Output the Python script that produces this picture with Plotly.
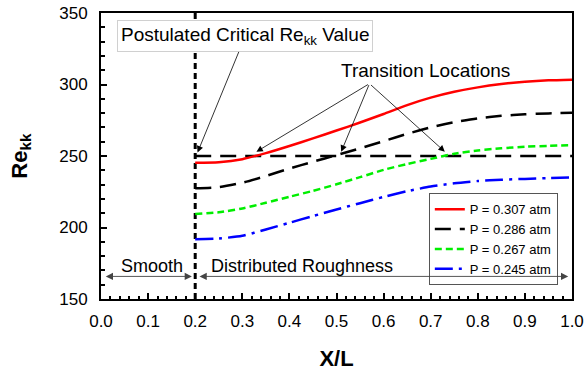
import plotly.graph_objects as go

# ---- data ----
x_pos = [0.20, 0.25, 0.30, 0.35, 0.40, 0.45, 0.50, 0.55, 0.60, 0.65, 0.70,
         0.75, 0.80, 0.85, 0.90, 0.95, 1.00]
re_p0307 = [245.3, 245.7, 247.8, 252.0, 257.0, 262.3, 267.8, 273.4, 279.4, 285.6,
            290.8, 294.9, 298.0, 300.3, 301.9, 302.9, 303.4]
re_p0286 = [227.4, 228.2, 231.3, 236.0, 241.2, 246.0, 250.6, 255.4, 260.4, 265.5,
            270.0, 273.6, 276.3, 278.1, 279.2, 279.8, 280.2]
re_p0267 = [209.5, 210.6, 213.3, 217.3, 221.5, 225.6, 230.2, 235.2, 240.3, 244.4,
            248.0, 251.6, 253.9, 255.4, 256.5, 257.1, 257.6]
re_p0245 = [191.8, 192.3, 194.2, 198.6, 203.3, 208.0, 212.6, 217.0, 221.4, 225.4,
            228.6, 230.9, 232.5, 233.4, 234.0, 234.5, 235.0]
series_names = ["P = 0.307 atm", "P = 0.286 atm", "P = 0.267 atm", "P = 0.245 atm"]

critical_re = 250
roughness_start = 0.2
transition_x = [0.33, 0.51, 0.73]
x_ticks = [0.0, 0.1, 0.2, 0.3, 0.4, 0.5, 0.6, 0.7, 0.8, 0.9, 1.0]
y_ticks = [150, 200, 250, 300, 350]

FONT = "Arial, Liberation Sans, sans-serif"

fig = go.Figure()

# reference lines
fig.add_trace(go.Scatter(x=[roughness_start, 1.0], y=[critical_re, critical_re],
                         mode="lines", showlegend=False, hoverinfo="skip",
                         line=dict(color="black", width=2.5, dash="16px,9px")))
fig.add_trace(go.Scatter(x=[roughness_start, roughness_start], y=[150, 350],
                         mode="lines", showlegend=False, hoverinfo="skip",
                         line=dict(color="black", width=3, dash="6px,4px")))

styles = [
    dict(color="#ff0000", width=2.5, dash="solid"),
    dict(color="black", width=2.5, dash="16px,9px"),
    dict(color="#00ee00", width=2.5, dash="7px,4px"),
    dict(color="#0000ff", width=2.5, dash="18px,6px,3px,6px"),
]
for ys, nm, st in zip([re_p0307, re_p0286, re_p0267, re_p0245], series_names, styles):
    fig.add_trace(go.Scatter(x=x_pos, y=ys, mode="lines", name=nm,
                             line=dict(shape="spline", smoothing=0.6, **st)))

annotations = []
# Postulated critical value annotation
annotations.append(dict(
    x=0.205, y=252.5, xref="x", yref="y",
    ax=0.306, ay=333.6, axref="x", ayref="y",
    text="Postulated Critical Re<sub>kk</sub> Value",
    showarrow=True, arrowhead=2, arrowsize=1.6, arrowwidth=0.8, arrowcolor="black",
    font=dict(family=FONT, size=19, color="black"),
    bgcolor="white", bordercolor="#d0d0d0", borderwidth=1, borderpad=3,
))
# Transition locations
annotations.append(dict(
    x=0.688, y=310, xref="x", yref="y", text="Transition Locations",
    showarrow=False, font=dict(family=FONT, size=19, color="black"),
))
for tx in transition_x:
    annotations.append(dict(
        x=tx, y=253, xref="x", yref="y",
        ax=0.570, ay=300.6, axref="x", ayref="y",
        text="", showarrow=True, arrowhead=2, arrowsize=1.6, arrowwidth=0.8,
        arrowcolor="black",
    ))
# Smooth / Distributed roughness double arrows
annotations.append(dict(
    x=0.193, y=165.8, xref="x", yref="y", ax=0.007, ay=165.8, axref="x", ayref="y",
    text="", showarrow=True, arrowhead=2, startarrowhead=2, arrowside="end+start",
    arrowsize=1.6, startarrowsize=1.6, arrowwidth=0.9, arrowcolor="#444444",
))
annotations.append(dict(
    x=0.992, y=165.8, xref="x", yref="y", ax=0.206, ay=165.8, axref="x", ayref="y",
    text="", showarrow=True, arrowhead=2, startarrowhead=2, arrowside="end+start",
    arrowsize=1.6, startarrowsize=1.6, arrowwidth=0.9, arrowcolor="#444444",
))
annotations.append(dict(
    x=0.108, y=173.2, xref="x", yref="y", text="Smooth", showarrow=False,
    font=dict(family=FONT, size=18, color="black"),
))
annotations.append(dict(
    x=0.427, y=173.2, xref="x", yref="y", text="Distributed Roughness", showarrow=False,
    font=dict(family=FONT, size=18, color="black"),
))

fig.update_layout(
    width=586, height=372,
    margin=dict(l=101, r=14, t=13, b=73, autoexpand=False),
    paper_bgcolor="white", plot_bgcolor="white",
    font=dict(family=FONT, size=17, color="black"),
    annotations=annotations,
    legend=dict(
        x=0.696, y=0.37, xanchor="left", yanchor="top",
        bgcolor="white", bordercolor="#555555", borderwidth=1,
        font=dict(family=FONT, size=13, color="black"),
        itemwidth=30, tracegroupgap=0,
    ),
    xaxis=dict(
        range=[0, 1], tickvals=x_ticks, ticktext=[f"{v:.1f}" for v in x_ticks],
        automargin=False,
        ticks="inside", ticklen=6, tickwidth=1.5, tickcolor="black",
        ticklabelstandoff=6,
        minor=dict(dtick=0.02, ticks="inside", ticklen=3, tickwidth=1.5, tickcolor="black"),
        showline=True, linecolor="black", linewidth=2, mirror=True,
        showgrid=False, zeroline=False,
        tickfont=dict(family=FONT, size=17, color="black"),
        title=dict(text="<b>X/L</b>", font=dict(family=FONT, size=22, color="black"),
                   standoff=20),
    ),
    yaxis=dict(
        range=[150, 350], tickvals=y_ticks,
        automargin=False,
        ticks="inside", ticklen=6, tickwidth=1.5, tickcolor="black",
        ticklabelstandoff=8,
        minor=dict(dtick=10, ticks="inside", ticklen=4, tickwidth=1.5, tickcolor="black"),
        showline=True, linecolor="black", linewidth=2, mirror=True,
        showgrid=False, zeroline=False,
        tickfont=dict(family=FONT, size=17, color="black"),
        title=dict(text="<b>Re<sub>kk</sub></b>", font=dict(family=FONT, size=22, color="black"),
                   standoff=26),
    ),
)

fig.write_html("out.html")
